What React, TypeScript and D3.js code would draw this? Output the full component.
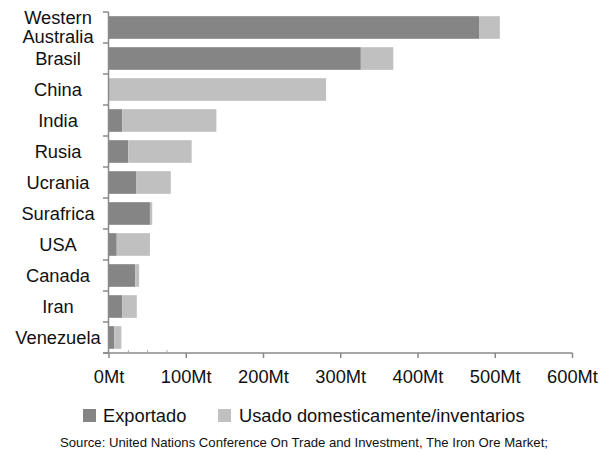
import React from "react";
import * as d3 from "d3";

const categories = ["Western Australia", "Brasil", "China", "India", "Rusia", "Ucrania", "Surafrica", "USA", "Canada", "Iran", "Venezuela"];
const exportado = [479, 326, 0, 17, 25, 35, 53, 10, 34, 17, 7];
const domestico = [27, 42, 281, 122, 82, 45, 3, 43, 5, 19, 9];
const xTicks = [0, 100, 200, 300, 400, 500, 600];
const minorTicks = [25, 50, 75];
const seriesNames = ["Exportado", "Usado domesticamente/inventarios"];
const colors = ["#858585", "#c0c0c0"];
const source = "Source: United Nations Conference On Trade and Investment, The Iron Ore Market;";

export default function App() {
  const W = 600, H = 454;
  const x = d3.scaleLinear().domain([0, 600]).range([109, 572.5]);
  const y = d3.scaleBand<string>().domain(categories).range([12, 353]).paddingInner(0.27).paddingOuter(0.135);
  const font = "Liberation Sans, Arial, sans-serif";
  const axisColor = "#8a8a8a";
  const fs = 18.3;
  return (
    <div style={{ position: "fixed", left: 0, top: 0 }}>
      <svg width={W} height={H} style={{ display: "block", background: "#fff" }}>
        {categories.map((c, i) => {
          const y0 = y(c)!;
          const bh = y.bandwidth();
          return (
            <g key={c}>
              <rect x={x(0)} y={y0} width={x(exportado[i]) - x(0)} height={bh} fill={colors[0]} />
              <rect x={x(exportado[i])} y={y0} width={x(exportado[i] + domestico[i]) - x(exportado[i])} height={bh} fill={colors[1]} />
            </g>
          );
        })}
        <line x1={108.5} x2={108.5} y1={12} y2={353} stroke={axisColor} strokeWidth={1.5} />
        {d3.range(categories.length + 1).map((k) => {
          const yy = 12 + k * (341 / categories.length);
          return <line key={k} x1={103} x2={108.5} y1={yy} y2={yy} stroke={axisColor} strokeWidth={1.5} />;
        })}
        <line x1={103} x2={x(600)} y1={353} y2={353} stroke={axisColor} strokeWidth={1.5} />
        {minorTicks.map((t) => (
          <line key={t} x1={x(t)} x2={x(t)} y1={350} y2={353} stroke="#aaa" strokeWidth={1} />
        ))}
        {xTicks.map((t) => (
          <g key={t}>
            <line x1={x(t)} x2={x(t)} y1={353} y2={358} stroke={axisColor} strokeWidth={1.5} />
            <text x={x(t)} y={383} textAnchor="middle" fontFamily={font} fontSize={fs} fill="#111">{`${t}Mt`}</text>
          </g>
        ))}
        {categories.map((c) => {
          const cy = y(c)! + y.bandwidth() / 2;
          const parts = c === "Western Australia" ? ["Western", "Australia"] : [c];
          return (
            <text key={c} textAnchor="middle" fontFamily={font} fontSize={fs} fill="#111">
              {parts.map((p, j) => (
                <tspan key={p} x={58} y={cy + 6 + (j - (parts.length - 1) / 2) * 19}>{p}</tspan>
              ))}
            </text>
          );
        })}
        <rect x={83} y={409} width={13} height={13} fill={colors[0]} />
        <text x={103} y={422} fontFamily={font} fontSize={fs} fill="#111">{seriesNames[0]}</text>
        <rect x={218} y={409} width={13} height={13} fill={colors[1]} />
        <text x={239} y={422} fontFamily={font} fontSize={fs} fill="#111">{seriesNames[1]}</text>
        <text x={60} y={446.5} fontFamily={font} fontSize={13} fill="#111" textLength={488} lengthAdjust="spacingAndGlyphs">{source}</text>
      </svg>
    </div>
  );
}
